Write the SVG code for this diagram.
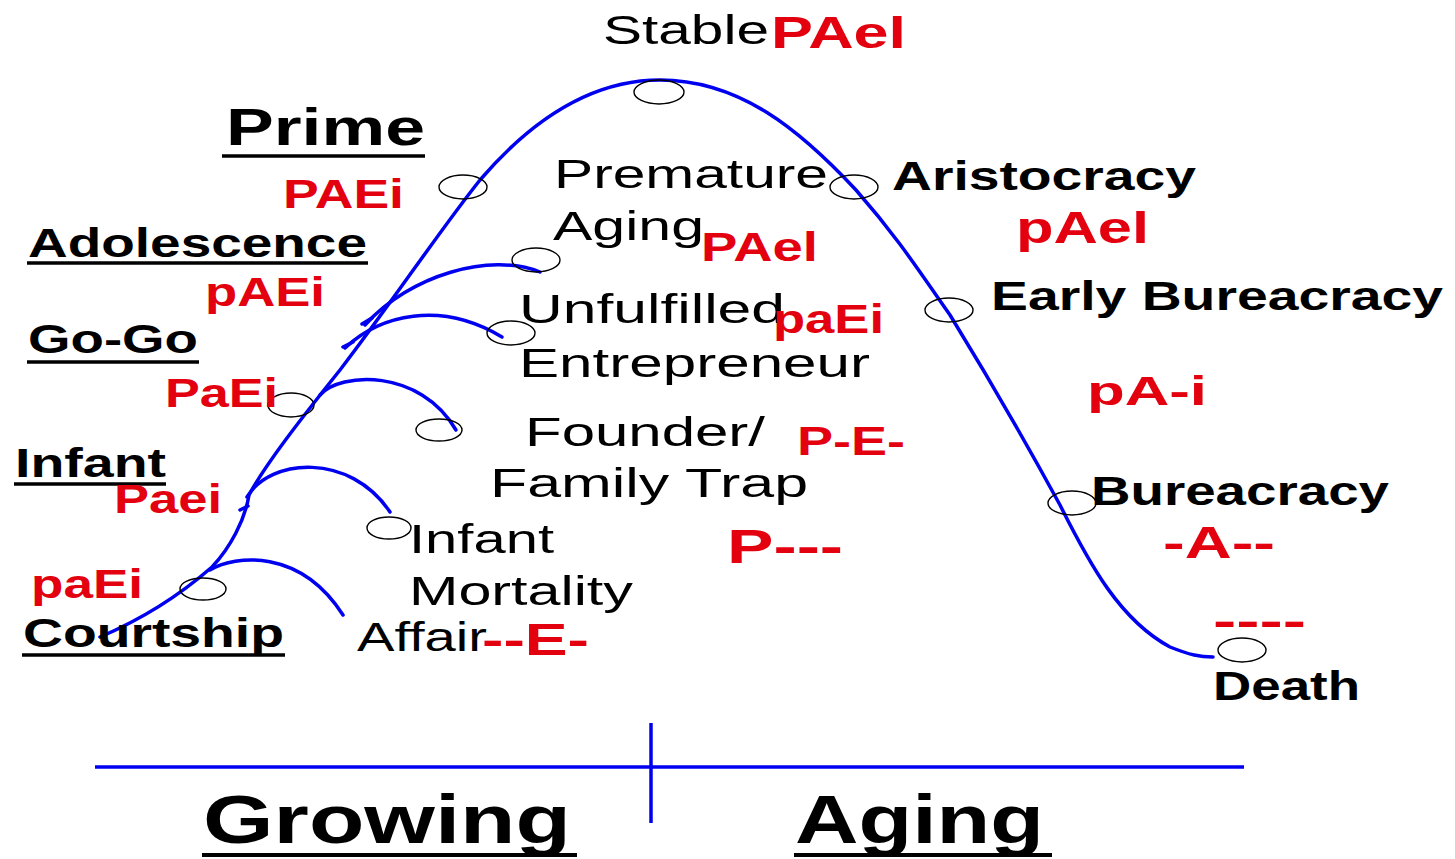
<svg xmlns="http://www.w3.org/2000/svg" width="1455" height="859" viewBox="0 0 1455 859">
<style>
text{font-family:"Liberation Sans",Arial,sans-serif;fill:#000;font-size:41px}
.b{font-weight:bold}
.r{fill:#e3000f;font-weight:bold}
.curve{fill:none;stroke:#0000f0;stroke-width:3.5;stroke-linecap:round;stroke-linejoin:round}
.ell{fill:none;stroke:#000;stroke-width:1.4}
.ul{stroke:#000;stroke-width:3.5}
.axis{stroke:#0000f0;stroke-width:3.5}
</style>
<rect width="1455" height="859" fill="#fff"/>
<g id="connectors">
<path class="curve" d="M100,637 C140,620 180,595 212,567 C230,548 245,520 249,495 C265,465 300,420 340,370 C390,305 440,230 480,180 C540,110 600,80 660,80 C740,80 800,130 856,190 C900,240 925,280 950,315 C990,380 1030,450 1060,505 C1090,565 1120,620 1170,647 C1190,655 1200,657 1213,657"/>
<path class="curve" d="M210,570 C235,555 300,548 343,615"/>
<path class="curve" d="M247,497 C270,458 350,452 390,512"/>
<path class="curve" d="M320,395 C340,372 420,368 456,430"/>
<path class="curve" d="M345,348 C380,315 440,300 502,337"/>
<path class="curve" d="M365,325 C410,275 490,252 540,272"/>
<path class="curve" d="M362,324 L372,318 M343,347 L353,342 M240,510 L248,506"/>
</g>
<g id="courtship">
<ellipse class="ell" cx="203" cy="589" rx="23" ry="11"/>
<text class="r" x="31" y="598" textLength="112" lengthAdjust="spacingAndGlyphs">paEi</text>
<text class="b" x="23" y="647" textLength="261" lengthAdjust="spacingAndGlyphs">Courtship</text>
<line class="ul" x1="22" y1="655" x2="285" y2="655"/>
</g>
<g id="affair">
<text x="357" y="651" textLength="130" lengthAdjust="spacingAndGlyphs">Affair</text>
<text class="r" x="482" y="655" style="font-size:44px" textLength="107" lengthAdjust="spacingAndGlyphs">--E-</text>
</g>
<g id="infant">
<text class="b" x="15" y="477" textLength="151" lengthAdjust="spacingAndGlyphs">Infant</text>
<line class="ul" x1="14" y1="484" x2="166" y2="484"/>
<text class="r" x="114" y="513" textLength="108" lengthAdjust="spacingAndGlyphs">Paei</text>
</g>
<g id="infant-mortality">
<ellipse class="ell" cx="389" cy="528" rx="22" ry="11"/>
<text x="409" y="553" textLength="145" lengthAdjust="spacingAndGlyphs">Infant</text>
<text x="409" y="605" textLength="224" lengthAdjust="spacingAndGlyphs">Mortality</text>
</g>
<g id="go-go">
<ellipse class="ell" cx="291" cy="405" rx="23" ry="12"/>
<text class="b" x="28" y="353" textLength="170" lengthAdjust="spacingAndGlyphs">Go-Go</text>
<line class="ul" x1="27" y1="362" x2="199" y2="362"/>
<text class="r" x="165" y="407" textLength="113" lengthAdjust="spacingAndGlyphs">PaEi</text>
</g>
<g id="founder-trap">
<ellipse class="ell" cx="439" cy="430" rx="23" ry="11"/>
<text x="525" y="446" textLength="240" lengthAdjust="spacingAndGlyphs">Founder/</text>
<text x="490" y="497" textLength="318" lengthAdjust="spacingAndGlyphs">Family Trap</text>
<text class="r" x="797" y="455" textLength="108" lengthAdjust="spacingAndGlyphs">P-E-</text>
<text class="r" x="727" y="563" style="font-size:48px" textLength="116" lengthAdjust="spacingAndGlyphs">P---</text>
</g>
<g id="adolescence">
<text class="b" x="28" y="257" textLength="339" lengthAdjust="spacingAndGlyphs">Adolescence</text>
<line class="ul" x1="27" y1="263" x2="368" y2="263"/>
<text class="r" x="205" y="306" textLength="120" lengthAdjust="spacingAndGlyphs">pAEi</text>
</g>
<g id="unfulfilled-entrepreneur">
<ellipse class="ell" cx="511" cy="333" rx="24" ry="12"/>
<text x="519" y="323" textLength="266" lengthAdjust="spacingAndGlyphs">Unfulfilled</text>
<text x="519" y="377" textLength="351" lengthAdjust="spacingAndGlyphs">Entrepreneur</text>
<text class="r" x="773" y="333" textLength="111" lengthAdjust="spacingAndGlyphs">paEi</text>
</g>
<g id="premature-aging">
<ellipse class="ell" cx="536" cy="260" rx="24" ry="12"/>
<text x="554" y="188" textLength="274" lengthAdjust="spacingAndGlyphs">Premature</text>
<text x="553" y="240" textLength="151" lengthAdjust="spacingAndGlyphs">Aging</text>
<text class="r" x="701" y="261" textLength="117" lengthAdjust="spacingAndGlyphs">PAel</text>
</g>
<g id="prime">
<ellipse class="ell" cx="463" cy="187" rx="24" ry="12"/>
<text class="b" x="226" y="145" style="font-size:52px" textLength="199" lengthAdjust="spacingAndGlyphs">Prime</text>
<line class="ul" x1="222" y1="156" x2="425" y2="156"/>
<text class="r" x="283" y="208" textLength="121" lengthAdjust="spacingAndGlyphs">PAEi</text>
</g>
<g id="stable">
<ellipse class="ell" cx="659" cy="92" rx="25" ry="12"/>
<text x="603" y="44" textLength="166" lengthAdjust="spacingAndGlyphs">Stable</text>
<text class="r" x="771" y="48" style="font-size:45px" textLength="135" lengthAdjust="spacingAndGlyphs">PAel</text>
</g>
<g id="aristocracy">
<ellipse class="ell" cx="854" cy="187" rx="24" ry="12"/>
<text class="b" x="892" y="190" textLength="304" lengthAdjust="spacingAndGlyphs">Aristocracy</text>
<text class="r" x="1016" y="243" style="font-size:45px" textLength="133" lengthAdjust="spacingAndGlyphs">pAel</text>
</g>
<g id="early-bureaucracy">
<ellipse class="ell" cx="949" cy="310" rx="24" ry="12"/>
<text class="b" x="991" y="310" textLength="452" lengthAdjust="spacingAndGlyphs">Early Bureacracy</text>
<text class="r" x="1087" y="405" textLength="120" lengthAdjust="spacingAndGlyphs">pA-i</text>
</g>
<g id="bureaucracy">
<ellipse class="ell" cx="1072" cy="503" rx="24" ry="12"/>
<text class="b" x="1091" y="505" textLength="298" lengthAdjust="spacingAndGlyphs">Bureacracy</text>
<text class="r" x="1163" y="558" style="font-size:44px" textLength="112" lengthAdjust="spacingAndGlyphs">-A--</text>
</g>
<g id="death">
<ellipse class="ell" cx="1242" cy="650" rx="24" ry="12"/>
<text class="r" x="1213" y="636" style="font-size:44px" textLength="93" lengthAdjust="spacingAndGlyphs">----</text>
<text class="b" x="1213" y="700" textLength="147" lengthAdjust="spacingAndGlyphs">Death</text>
</g>
<g id="axis">
<line class="axis" x1="95" y1="767" x2="1244" y2="767"/>
<line class="axis" x1="651" y1="723" x2="651" y2="823"/>
<text class="b" x="203" y="843" style="font-size:68px" textLength="368" lengthAdjust="spacingAndGlyphs">Growing</text>
<line class="ul" x1="202" y1="855" x2="577" y2="855" style="stroke-width:4"/>
<text class="b" x="795" y="843" style="font-size:68px" textLength="249" lengthAdjust="spacingAndGlyphs">Aging</text>
<line class="ul" x1="794" y1="855" x2="1052" y2="855" style="stroke-width:4"/>
</g>
</svg>
